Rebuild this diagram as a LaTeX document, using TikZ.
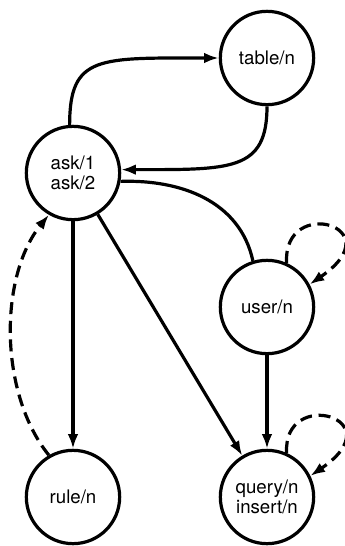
\documentclass[tikz,border=0pt]{standalone}
\usepackage{fontspec}
\setmainfont{TeX Gyre Heros}
\usetikzlibrary{arrows.meta}
\begin{document}
\begin{tikzpicture}[x=0.75pt,y=-0.75pt,
  state/.style={circle,draw,line width=2.4pt,minimum size=70pt,inner sep=0pt,align=center,font=\fontsize{14}{15}\selectfont},
  edge/.style={line width=2.4pt},
  tip/.style={-{Latex[length=11pt,width=8pt]}},
  dashedge/.style={line width=2.4pt,dash pattern=on 9pt off 5pt}]
\useasboundingbox (0,0) rectangle (345,546);
\node[state] (table) at (267,58) {table/n};
\node[state] (ask) at (73,173) {ask/1\\ask/2};
\node[state] (user) at (267,307) {user/n};
\node[state] (rule) at (73,497) {rule/n};
\node[state] (query) at (267,497) {query/n\\insert/n};
% ask -> table
\draw[edge,tip] (ask.94) .. controls +(0,-70) and +(-120,0) .. (table.west);
% table -> ask
\draw[edge,tip] (table.south) .. controls +(0,65) and +(110,0) .. (ask.4);
% user -- ask
\draw[edge] (user.107) .. controls +(-13,-60) and +(60,-2) .. (ask.-10);
% ask -> rule
\draw[edge,tip] (ask.south) -- (rule.north);
% ask -> query
\draw[edge,tip] (ask) -- (query);
% user -> query
\draw[edge,tip] (user.south) -- (query.north);
% rule -> ask dashed
\draw[dashedge,tip] (rule.120) .. controls +(-50,-62) and +(-50,62) .. (ask.240);
% self loops
\draw[dashedge,tip] (user.66) .. controls +(-4,-68) and +(85,-58) .. (user.28);
\draw[dashedge,tip] (query.66) .. controls +(-4,-66) and +(85,-58) .. (query.26);
\end{tikzpicture}
\end{document}
